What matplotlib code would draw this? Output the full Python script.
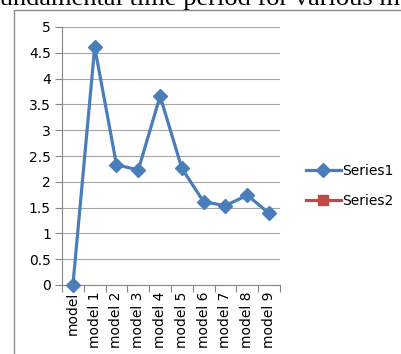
import matplotlib.pyplot as plt
import numpy as np
from matplotlib.patches import Rectangle
from matplotlib.ticker import FixedLocator, NullFormatter

categories = ["model", "model 1", "model 2", "model 3", "model 4",
              "model 5", "model 6", "model 7", "model 8", "model 9"]
series1 = [0.0, 4.61, 2.33, 2.23, 3.66, 2.26, 1.61, 1.54, 1.74, 1.39]
series2 = []  # empty series, legend only
yticks = [0, 0.5, 1, 1.5, 2, 2.5, 3, 3.5, 4, 4.5, 5]

BLUE = "#4A7EBB"
RED = "#BE4B48"
GRID = "#A6A6A6"
AXIS = "#868686"

W, H = 402, 354
fig = plt.figure(figsize=(W / 100, H / 100), dpi=100)

# document text above the chart, cut off by the top edge
fig.text(-9 / W, 1 - 5 / H, "fundamental time period for various models",
         family="Liberation Serif", fontsize=19, va="baseline", ha="left",
         color="black")

# chart frame
fig.patches.append(Rectangle((14 / W, -0.05), 1.2, 1 - 9.5 / H + 0.05,
                             transform=fig.transFigure, fill=False,
                             edgecolor="#8C8C8C", linewidth=1.0))

ax = fig.add_axes([62 / W, (H - 285) / H, 218 / W, 258 / H])
x = np.arange(len(categories))
ax.plot(x, series1, color=BLUE, lw=2.3, marker="D", ms=7,
        mfc=BLUE, mec=BLUE, label="Series1", clip_on=False, zorder=5)
ax.plot(series2, series2, color=RED, lw=2.3, marker="s", ms=7,
        mfc=RED, mec=RED, label="Series2")

ax.set_xlim(-0.5, len(categories) - 0.5)
ax.set_ylim(0, 5)
ax.set_yticks(yticks)
ax.set_yticklabels([f"{v:g}" for v in yticks])
ax.yaxis.grid(True, color=GRID, lw=0.8)
ax.set_axisbelow(True)

ax.xaxis.set_major_locator(FixedLocator(np.arange(len(categories) + 1) - 0.5))
ax.xaxis.set_major_formatter(NullFormatter())
ax.xaxis.set_minor_locator(FixedLocator(x))
ax.set_xticklabels(categories, minor=True, rotation=90)
ax.tick_params(axis="x", which="minor", length=0, pad=5, labelsize=10)
ax.tick_params(axis="x", which="major", length=5, color=AXIS, width=0.8)
ax.tick_params(axis="y", length=5, color=AXIS, width=0.8, labelsize=10, pad=3)

for s in ("top", "right"):
    ax.spines[s].set_visible(False)
for s in ("left", "bottom"):
    ax.spines[s].set_color(AXIS)
    ax.spines[s].set_linewidth(0.8)

ax.legend(loc="center left", bbox_to_anchor=(299 / W, (H - 186) / H),
          bbox_transform=fig.transFigure, frameon=False, fontsize=10,
          handlelength=2.5, handletextpad=0.1, labelspacing=1.2,
          borderpad=0)

fig.savefig("out.png", dpi=100)
